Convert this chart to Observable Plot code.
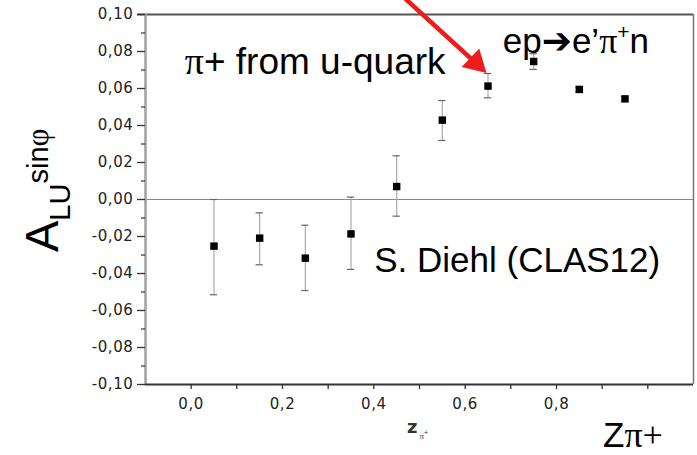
<!DOCTYPE html>
<html>
<head>
<meta charset="utf-8">
<script src="https://cdn.jsdelivr.net/npm/d3@7"></script>
<script src="https://cdn.jsdelivr.net/npm/@observablehq/plot@0.6"></script>
<style>
  html, body { margin: 0; padding: 0; background: white; }
  #chart { width: 697px; height: 455px; overflow: hidden; }
</style>
</head>
<body>
<div id="chart"></div>
<script>
// ---- data ----
const zBins   = [0.05, 0.15, 0.25, 0.35, 0.45, 0.55, 0.65, 0.75, 0.85, 0.95];
const asymVal = [-0.0252, -0.0209, -0.0317, -0.0186, 0.0070, 0.0429, 0.0613, 0.0746, 0.0595, 0.0544];
const errLow  = [-0.0515, -0.0353, -0.0492, -0.0378, -0.0090, 0.0319, 0.0550, 0.0703, 0.0582, 0.0532];
const errHigh = [0.0000, -0.0072, -0.0139, 0.0013, 0.0236, 0.0535, 0.0681, 0.0788, 0.0608, 0.0556];

// axis ticks
const yMajorTicks = [-0.10, -0.08, -0.06, -0.04, -0.02, 0.00, 0.02, 0.04, 0.06, 0.08, 0.10];
const yMinorTicks = [-0.09, -0.07, -0.05, -0.03, -0.01, 0.01, 0.03, 0.05, 0.07, 0.09];
const xLabelTicks = [0.0, 0.2, 0.4, 0.6, 0.8];
const xMinorTicks = [0.1, 0.3, 0.5, 0.7, 0.9, 1.0];

// annotation arrow (data coordinates): start, shaft end, tip
const arrowStart = [0.466, 0.1092];
const arrowShaftEnd = [0.628, 0.0727];
const arrowTip = [0.646, 0.0686];

// annotation text anchors (data coordinates, left/baseline)
const noteQuark = [-0.013, 0.0676];
const noteReaction = [0.6835, 0.0789];
const noteAuthor = [0.402, -0.0393];

const rows = zBins.map((z, i) => ({z, a: asymVal[i], lo: errLow[i], hi: errHigh[i]}));
const fmt = d => d.toFixed(2).replace(".", ",").replace("−", "-");
const fmtX = d => d.toFixed(1).replace(".", ",");

const SANS = "'Liberation Sans', Arial, sans-serif";
const SERIF = "'Liberation Serif', 'Times New Roman', serif";
const TICKFONT = "'DejaVu Sans', Verdana, sans-serif";

const plot = Plot.plot({
  width: 697,
  height: 455,
  marginLeft: 145,
  marginRight: 4,
  marginTop: 14,
  marginBottom: 71,
  x: {domain: [-0.1, 1.1]},
  y: {domain: [-0.1, 0.1]},
  style: {fontFamily: TICKFONT, fontSize: "15px", color: "#333", background: "white", overflow: "visible"},
  marks: [
    Plot.ruleY([0], {stroke: "#8a8a8a", strokeWidth: 1}),
    // frame
    Plot.ruleY([0.1], {x1: -0.117, x2: 1.1, stroke: "#555", strokeWidth: 2}),
    Plot.ruleX([1.1], {stroke: "#777", strokeWidth: 1.5}),
    Plot.ruleX([-0.1], {stroke: "#a0a0a0", strokeWidth: 2.5}),
    Plot.ruleY([-0.1], {stroke: "#333", strokeWidth: 2}),
    // axes
    Plot.axisY({ticks: yMajorTicks, tickSize: 8, tickPadding: 4, tickFormat: fmt, label: null, stroke: "#333", strokeWidth: 1.3, fill: "#222", fontFamily: TICKFONT, fontSize: 15}),
    Plot.axisY({ticks: yMinorTicks, tickSize: 4, tickFormat: () => "", label: null, stroke: "#333", strokeWidth: 1.2}),
    Plot.axisX({ticks: xLabelTicks, tickSize: 5, tickPadding: 9, tickFormat: fmtX, label: null, stroke: "#333", strokeWidth: 1.3, fill: "#222", fontFamily: TICKFONT, fontSize: 15}),
    Plot.axisX({ticks: xMinorTicks, tickSize: 5, tickFormat: () => "", label: null, stroke: "#333", strokeWidth: 1.3}),
    // error bars
    Plot.ruleX(rows, {x: "z", y1: "lo", y2: "hi", stroke: "#aaa", strokeWidth: 1.2}),
    Plot.ruleY(rows, {y: "hi", x1: d => d.z - 0.008, x2: d => d.z + 0.008, stroke: "#666", strokeWidth: 1.2}),
    Plot.ruleY(rows, {y: "lo", x1: d => d.z - 0.008, x2: d => d.z + 0.008, stroke: "#666", strokeWidth: 1.2}),
    // markers
    Plot.dot(rows, {x: "z", y: "a", symbol: "square", r: 4.2, fill: "black", stroke: null}),
    // red arrow annotation
    Plot.link([0], {x1: () => arrowStart[0], y1: () => arrowStart[1], x2: () => arrowShaftEnd[0], y2: () => arrowShaftEnd[1], stroke: "#ee1c1c", strokeWidth: 4.5}),
    Plot.dot([0], {x: () => arrowTip[0], y: () => arrowTip[1], symbol: "triangle", r: 9.5, rotate: 133.5, dx: -10.4, dy: -9.8, fill: "#ee1c1c", stroke: null})
  ]
});

document.getElementById("chart").appendChild(plot);

const X = plot.scale("x"), Y = plot.scale("y");
const svg = d3.select(plot);
svg.selectAll("g[aria-label='y-axis tick label'] text, g[aria-label='x-axis tick label'] text")
  .attr("letter-spacing", "0.6");

function addText(x, y, parts, opts = {}) {
  const t = svg.append("text")
    .attr("x", x).attr("y", y)
    .attr("fill", opts.fill || "black")
    .attr("text-anchor", opts.anchor || "start");
  if (opts.rotate) t.attr("transform", `rotate(${opts.rotate},${x},${y})`);
  for (const p of parts) {
    const s = t.append("tspan").text(p.t)
      .attr("font-family", p.font || SANS)
      .attr("font-size", p.size)
      .attr("font-weight", p.weight || "normal");
    if (p.dy) s.attr("dy", p.dy);
    if (p.dx) s.attr("dx", p.dx);
  }
  return t;
}

// annotations
addText(X.apply(noteQuark[0]), Y.apply(noteQuark[1]), [
  {t: "π", font: SERIF, size: 38},
  {t: "+ from u-quark", size: 37}
]);
addText(X.apply(noteReaction[0]), Y.apply(noteReaction[1]), [
  {t: "ep", size: 35},
  {t: "➔", font: "'DejaVu Sans', sans-serif", size: 36},
  {t: "e’", size: 35},
  {t: "π", font: SERIF, size: 36},
  {t: "+", size: 21, dy: -14},
  {t: "n", size: 35, dy: 14}
]);
addText(X.apply(noteAuthor[0]), Y.apply(noteAuthor[1]), [
  {t: "S. Diehl (CLAS12)", size: 35}
]);

// y-axis title A_LU^{sin phi}
addText(58, 252, [
  {t: "A", size: 47},
  {t: "LU", size: 29, dy: 12},
  {t: "sin", size: 29, dy: -22},
  {t: "φ", font: SERIF, size: 31}
], {rotate: -90});

// small x axis title from the original figure
addText(407, 433, [
  {t: "z", size: 18, weight: "bold", font: TICKFONT},
  {t: "π", size: 9, font: SERIF, dy: 6, dx: 2},
  {t: "+", size: 7, dy: -4}
], {fill: "#333"});

// big x title Zπ+
addText(603, 447, [
  {t: "Z", size: 35},
  {t: "π+", font: SERIF, size: 36}
]);
</script>
</body>
</html>
